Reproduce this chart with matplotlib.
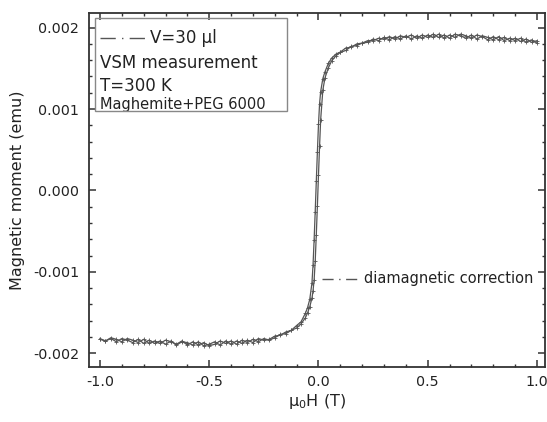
import numpy as np
import matplotlib
matplotlib.use("Agg")
import matplotlib.pyplot as plt
import matplotlib.patches as mpatches
from matplotlib.ticker import MultipleLocator, FormatStrFormatter

plt.rcParams["font.family"] = ["DejaVu Sans"]
plt.rcParams["axes.unicode_minus"] = False

# applied field (T), swept from +1 T down to -1 T
field_T = [
    1.0, 0.975, 0.95, 0.925, 0.9, 0.875, 0.85, 0.825, 0.8, 0.775, 0.75,
    0.725, 0.7, 0.675, 0.65, 0.625, 0.6, 0.575, 0.55, 0.525, 0.5, 0.475,
    0.45, 0.425, 0.4, 0.375, 0.35, 0.325, 0.3, 0.275, 0.25, 0.225, 0.2,
    0.175, 0.15, 0.125, 0.1, 0.08, 0.06, 0.045, 0.03, 0.02, 0.01, 0.005,
    0.0, -0.005, -0.01, -0.015, -0.02, -0.025, -0.03, -0.04, -0.05, -0.06,
    -0.08, -0.1, -0.125, -0.15, -0.175,
    -0.2, -0.225, -0.25, -0.275, -0.3, -0.325, -0.35, -0.375, -0.4, -0.425,
    -0.45, -0.475, -0.5, -0.525, -0.55, -0.575, -0.6, -0.625, -0.65, -0.675,
    -0.7, -0.725, -0.75, -0.775, -0.8, -0.825, -0.85, -0.875, -0.9, -0.925,
    -0.95, -0.975, -1.0,
]

# magnetic moment, units of 1e-3 emu, descending-field branch
moment_down = [
    1.81, 1.85, 1.82, 1.87, 1.84, 1.87, 1.84, 1.89, 1.85, 1.88,
    1.90, 1.86, 1.91, 1.87, 1.90, 1.92, 1.87, 1.91, 1.88, 1.92,
    1.88, 1.91, 1.87, 1.91, 1.88, 1.90, 1.86, 1.89, 1.86, 1.87,
    1.84, 1.84, 1.81,
    1.80, 1.76, 1.75, 1.70, 1.675, 1.625, 1.56, 1.46, 1.375, 1.215, 1.065,
    0.81, 0.475, 0.11, -0.26, -0.61, -0.92, -1.14, -1.34, -1.44, -1.51,
    -1.615, -1.66, -1.72, -1.74, -1.78,
    -1.79, -1.83, -1.84, -1.82, -1.87, -1.84, -1.88, -1.85, -1.89, -1.85,
    -1.90, -1.86, -1.89, -1.91, -1.86, -1.90, -1.87, -1.86, -1.90, -1.85,
    -1.89, -1.85, -1.88, -1.84, -1.88, -1.83, -1.87, -1.84, -1.82, -1.86,
    -1.82, -1.85, -1.82,
]

# ascending-field branch, same field points
moment_up = [
    1.84, 1.82, 1.86, 1.83, 1.87, 1.84, 1.88, 1.85, 1.89, 1.85,
    1.89, 1.91, 1.87, 1.90, 1.92, 1.88, 1.91, 1.87, 1.92, 1.88,
    1.91, 1.87, 1.90, 1.86, 1.90, 1.86, 1.89, 1.85, 1.88, 1.84,
    1.86, 1.82, 1.81,
    1.78, 1.77, 1.72, 1.695, 1.655, 1.59, 1.505, 1.385, 1.235, 0.87, 0.545,
    0.19, -0.19, -0.545, -0.87, -1.10, -1.235, -1.325, -1.43, -1.505, -1.565,
    -1.64, -1.69, -1.72, -1.76, -1.77,
    -1.81, -1.84, -1.82, -1.86, -1.83, -1.87, -1.84, -1.89, -1.85, -1.88,
    -1.85, -1.89, -1.91, -1.87, -1.90, -1.86, -1.90, -1.85, -1.89, -1.86,
    -1.84, -1.88, -1.85, -1.88, -1.83, -1.87, -1.84, -1.82, -1.86, -1.83,
    -1.81, -1.85, -1.83,
]

x_ticks = [-1.0, -0.5, 0.0, 0.5, 1.0]
y_ticks = [-0.002, -0.001, 0.0, 0.001, 0.002]

legend_lines = ["V=30 µl", "VSM measurement", "T=300 K", "Maghemite+PEG 6000"]
note_label = "diamagnetic correction"

LINE = "#555555"
SPINE = "#333333"

fig = plt.figure(figsize=(5.47, 4.22), dpi=100)
ax = fig.add_axes([0.1627, 0.1303, 0.8336, 0.8389])

H = np.array(field_T)
for branch in (moment_down, moment_up):
    ax.plot(H, np.array(branch) * 1e-3, color=LINE, lw=0.9,
            marker="+", ms=3.5, mew=0.6)

ax.set_xlim(-1.0503, 1.0366)
ax.set_ylim(-0.00217, 0.00218)
ax.set_xticks(x_ticks)
ax.set_yticks(y_ticks)
ax.xaxis.set_minor_locator(MultipleLocator(0.1))
ax.yaxis.set_minor_locator(MultipleLocator(0.0002))
ax.xaxis.set_major_formatter(FormatStrFormatter("%.1f"))
ax.yaxis.set_major_formatter(FormatStrFormatter("%.3f"))

ax.tick_params(which="both", direction="in", top=True, right=True,
               color=SPINE, labelsize=10.3, labelcolor="#222222")
ax.tick_params(which="major", length=5, width=1.1)
ax.tick_params(which="minor", length=2.5, width=1.0)
ax.tick_params(axis="x", pad=6)
ax.tick_params(axis="y", pad=7)
for sp in ax.spines.values():
    sp.set_linewidth(1.3)
    sp.set_color(SPINE)

ax.set_xlabel("μ$_0$H (T)", fontsize=11.5, labelpad=2, color="#222222")
ax.set_ylabel("Magnetic moment (emu)", fontsize=11.5, labelpad=6, color="#222222")

# legend box, upper left
ax.add_patch(mpatches.Rectangle((0.013, 0.723), 0.421, 0.263, transform=ax.transAxes,
                                fill=False, edgecolor="#888888", lw=1.0, zorder=5))
ax.plot([0.024, 0.123], [0.929, 0.929], transform=ax.transAxes,
        color=LINE, lw=1.0, ls=(0, (11, 4.5, 1, 4.5)))
ax.text(0.134, 0.929, legend_lines[0], transform=ax.transAxes, fontsize=12,
        va="center", color="#222222")
ax.text(0.024, 0.858, legend_lines[1], transform=ax.transAxes, fontsize=12,
        va="center", color="#222222")
ax.text(0.024, 0.793, legend_lines[2], transform=ax.transAxes, fontsize=12,
        va="center", color="#222222")
ax.text(0.024, 0.741, legend_lines[3], transform=ax.transAxes, fontsize=10.5,
        va="center", color="#222222")

# diamagnetic correction note
ax.plot([0.511, 0.590], [0.249, 0.249], transform=ax.transAxes,
        color=LINE, lw=1.0, ls=(0, (8, 4, 1, 4)))
ax.text(0.603, 0.249, note_label, transform=ax.transAxes, fontsize=10.5,
        va="center", color="#222222")

fig.savefig("out.png", dpi=100)
